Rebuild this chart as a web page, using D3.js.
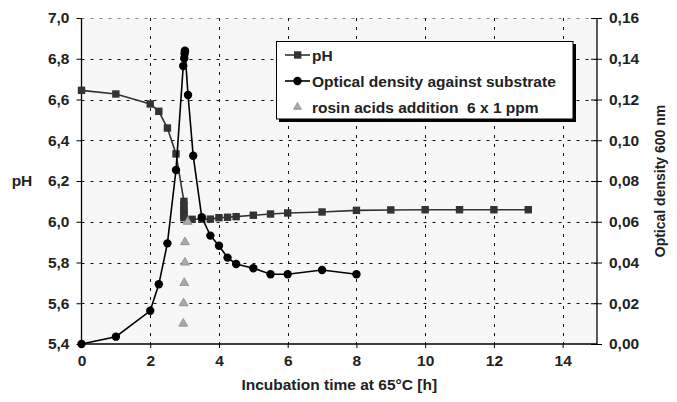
<!DOCTYPE html>
<html><head><meta charset="utf-8">
<script src="https://cdn.jsdelivr.net/npm/d3@7"></script>
<style>
body{margin:0;background:#fff;}
text{font-family:"Liberation Sans",Arial,sans-serif;font-weight:bold;fill:#222;white-space:pre;}
</style></head>
<body>
<svg id="c" width="677" height="402"></svg>
<script>
// ---- data ----
const phX = [0,1,2,2.25,2.5,2.75,2.98,2.98,2.98,2.98,2.98,2.98,3.22,3.5,3.75,4,4.25,4.5,5,5.5,6,7,8,9,10,11,12,13];
const phY = [6.645,6.627,6.578,6.542,6.46,6.333,6.1,6.08,6.06,6.045,6.03,6.02,6.012,6.013,6.013,6.02,6.022,6.025,6.032,6.038,6.043,6.048,6.056,6.058,6.059,6.059,6.059,6.059];
const odX = [0,1,2,2.25,2.5,2.75,2.96,2.99,3.0,3.01,3.01,3.1,3.25,3.5,3.75,4,4.25,4.5,5,5.5,6,7,8];
const odY = [0,0.0036,0.0163,0.0293,0.0494,0.0854,0.1364,0.1402,0.1425,0.1435,0.144,0.1222,0.0924,0.0622,0.0532,0.0482,0.0424,0.0393,0.0372,0.0342,0.0342,0.0363,0.0342];
const rosinX = [3.09,3.01,3.01,2.99,2.97,2.96];
const rosinY = [6.0,5.9,5.8,5.7,5.6,5.5];
const xTicks = [0,2,4,6,8,10,12,14];
const phTicks = [5.4,5.6,5.8,6.0,6.2,6.4,6.6,6.8,7.0];
const odTicks = [0,0.02,0.04,0.06,0.08,0.10,0.12,0.14,0.16];
const legendLabels = ["pH","Optical density against substrate","rosin acids addition  6 x 1 ppm"];

const FS = 15.5;
const svg = d3.select("#c");
const L=81.5, R=597, T=18, B=344;
const x = d3.scaleLinear().domain([0,15]).range([L,R]);
const yL = d3.scaleLinear().domain([5.4,7.0]).range([B,T]);
const yR = d3.scaleLinear().domain([0,0.16]).range([B,T]);
const fmt = d=>d3.format(".1f")(d).replace(".",",");
const fmt2 = d=>d3.format(".2f")(d).replace(".",",");

// plot background
svg.append("rect").attr("x",L).attr("y",T).attr("width",R-L).attr("height",B-T).attr("fill","#f7f7f7");

// grid
const g = svg.append("g");
phTicks.slice(1).forEach(t=>{
  g.append("line").attr("x1",L).attr("x2",R).attr("y1",Math.round(yL(t))+0.5).attr("y2",Math.round(yL(t))+0.5)
   .attr("stroke", t===7.0?"#888":"#111").attr("stroke-width",1).attr("stroke-dasharray","3,6");
});
xTicks.slice(1).forEach(t=>{
  g.append("line").attr("y1",T).attr("y2",B).attr("x1",Math.round(x(t))+0.5).attr("x2",Math.round(x(t))+0.5)
   .attr("stroke","#111").attr("stroke-width",1).attr("stroke-dasharray","3,6");
});

// axes
const axL = svg.append("g").attr("transform",`translate(${L},0)`)
  .call(d3.axisLeft(yL).tickValues(phTicks).tickFormat(fmt).tickSize(5).tickPadding(7));
const axR = svg.append("g").attr("transform",`translate(${R},0)`)
  .call(d3.axisRight(yR).tickValues(odTicks).tickFormat(fmt2).tickSize(5).tickPadding(7));
axR.selectAll(".tick line").attr("x1",-6).attr("x2",5);
const axB = svg.append("g").attr("transform",`translate(0,${B})`)
  .call(d3.axisBottom(x).tickValues(xTicks).tickFormat(d3.format("d")).tickSize(4).tickPadding(7));
[axL,axR,axB].forEach(a=>{
  a.selectAll("path").attr("stroke","#000").attr("stroke-width",1.3);
  a.selectAll(".tick line").attr("stroke","#000");
  a.selectAll("text").attr("font-size",FS).attr("font-family","Liberation Sans, Arial, sans-serif").attr("font-weight","bold").attr("fill","#222");
});
axL.select("path").attr("d",`M0,${T}V${B}`);
axR.select("path").attr("d",`M0,${T}V${B}`);
axB.select("path").attr("d",`M${L},0H${R}`);

// titles
svg.append("text").attr("x",(L+R)/2).attr("y",390).attr("text-anchor","middle").attr("font-size",FS).text("Incubation time at 65°C [h]");
svg.append("text").attr("x",22).attr("y",186).attr("text-anchor","middle").attr("font-size",FS).text("pH");
svg.append("text").attr("transform",`translate(665,181) rotate(-90)`).attr("text-anchor","middle").attr("font-size",14).text("Optical density 600 nm");

// pH series
const phData = phX.map((d,i)=>[d,phY[i]]);
svg.append("path").datum(phData).attr("fill","none").attr("stroke","#333").attr("stroke-width",1.6)
  .attr("d",d3.line().x(d=>x(d[0])).y(d=>yL(d[1])));
svg.append("g").selectAll("rect").data(phData).join("rect")
  .attr("x",d=>x(d[0])-3.7).attr("y",d=>yL(d[1])-3.7).attr("width",7.4).attr("height",7.4).attr("fill","#333");

// OD series
const odData = odX.map((d,i)=>[d,odY[i]]);
svg.append("path").datum(odData).attr("fill","none").attr("stroke","#000").attr("stroke-width",1.6)
  .attr("d",d3.line().x(d=>x(d[0])).y(d=>yR(d[1])));
svg.append("g").selectAll("circle").data(odData).join("circle")
  .attr("cx",d=>x(d[0])).attr("cy",d=>yR(d[1])).attr("r",4.2).attr("fill","#000");

// rosin triangles
const tri = d3.symbol().type(d3.symbolTriangle).size(34);
svg.append("g").selectAll("path").data(rosinX.map((d,i)=>[d,rosinY[i]])).join("path")
  .attr("transform",d=>`translate(${x(d[0])},${yL(d[1])})`).attr("d",tri)
  .attr("fill","#aaa").attr("stroke","#888").attr("stroke-width",0.8);

// legend
const lg = svg.append("g");
lg.append("rect").attr("x",279).attr("y",44).attr("width",297).attr("height",78).attr("fill","#000");
lg.append("rect").attr("x",276.5).attr("y",41.5).attr("width",296.5).attr("height",77.5).attr("fill","#fff").attr("stroke","#000").attr("stroke-width",1);
const rows=[55,81,107];
lg.append("line").attr("x1",285).attr("x2",310).attr("y1",rows[0]).attr("y2",rows[0]).attr("stroke","#333").attr("stroke-width",1.6);
lg.append("rect").attr("x",294).attr("y",rows[0]-3.7).attr("width",7.4).attr("height",7.4).attr("fill","#333");
lg.append("line").attr("x1",285).attr("x2",310).attr("y1",rows[1]).attr("y2",rows[1]).attr("stroke","#000").attr("stroke-width",1.6);
lg.append("circle").attr("cx",297.5).attr("cy",rows[1]).attr("r",4.2).attr("fill","#000");
lg.append("path").attr("transform",`translate(297.5,${rows[2]})`).attr("d",d3.symbol().type(d3.symbolTriangle).size(26)).attr("fill","#aaa").attr("stroke","#888").attr("stroke-width",0.8);
legendLabels.forEach((t,i)=>{
  lg.append("text").attr("x",312).attr("y",rows[i]+5.5).attr("font-size",FS).attr("xml:space","preserve").text(t);
});
</script>
</body></html>
